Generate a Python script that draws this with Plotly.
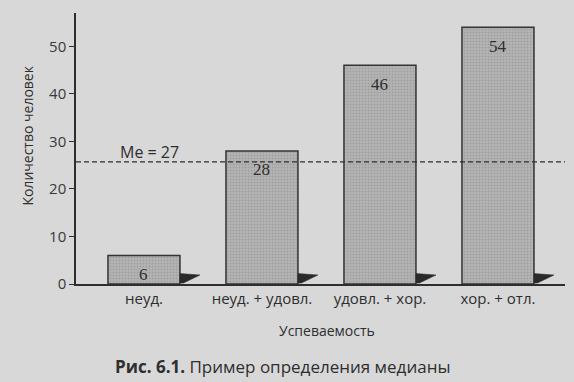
import plotly.graph_objects as go

# ---- data ----
categories = ["неуд.", "неуд. + удовл.", "удовл. + хор.", "хор. + отл."]
counts = [6, 28, 46, 54]
bar_labels = ["6", "28", "46", "54"]
median_label = "Me = 27"
median_line = 25.7
y_ticks = [0, 10, 20, 30, 40, 50]

# ---- styling ----
BG = "#d8d8d8"
INK = "#2e2e2e"
SANS = "Open Sans, Noto Sans, DejaVu Sans, sans-serif"
SERIF = "Liberation Serif, DejaVu Serif, serif"
bar_w = 0.61

xpos = list(range(len(categories)))

fig = go.Figure()

# shadows at the bottom-right of each bar (derived from bar positions)
for i in xpos:
    x0 = i + bar_w / 2
    fig.add_trace(go.Scatter(
        x=[x0, x0 + 0.17, x0 + 0.03, x0, x0],
        y=[2.2, 1.9, 0.2, 0.2, 2.2],
        mode="lines", fill="toself", fillcolor="#2a2a2a",
        line=dict(color="#2a2a2a", width=0.5),
        hoverinfo="skip", showlegend=False,
    ))

fig.add_trace(go.Bar(
    x=xpos, y=counts, width=bar_w,
    marker=dict(
        color="#ababab",
        line=dict(color="#333333", width=1.5),
        pattern=dict(shape=".", fgcolor="#8a8a8a", bgcolor="#b4b4b4",
                     size=3, solidity=0.35),
    ),
    showlegend=False, hoverinfo="skip",
))

# value labels inside the bars, near the top
for xi, v, lab in zip(xpos, counts, bar_labels):
    fig.add_annotation(x=xi, y=v, xref="x", yref="y", text=lab,
                       showarrow=False, xanchor="center", yanchor="middle",
                       yshift=-19,
                       font=dict(family=SERIF, size=17, color=INK))

fig.add_shape(type="line", xref="paper", yref="y", x0=0, x1=1,
              y0=median_line, y1=median_line,
              line=dict(color=INK, width=1.2, dash="5px,3px"), layer="above")

fig.add_annotation(x=-0.22, y=median_line, xref="x", yref="y",
                   xanchor="left", yanchor="bottom", yshift=-3,
                   text=median_label, showarrow=False,
                   font=dict(family=SANS, size=16, color=INK))

fig.add_annotation(x=-0.100, y=0.548, xref="paper", yref="paper",
                   xanchor="center", yanchor="middle",
                   text="Количество человек", textangle=-90, showarrow=False,
                   font=dict(family=SANS, size=14, color=INK))
fig.add_annotation(x=0.513, y=-0.170, xref="paper", yref="paper",
                   xanchor="center", yanchor="middle",
                   text="Успеваемость", showarrow=False,
                   font=dict(family=SANS, size=14, color=INK))
fig.add_annotation(x=0.422, y=-0.303, xref="paper", yref="paper",
                   xanchor="center", yanchor="middle",
                   text="<b>Рис. 6.1.</b> Пример определения медианы", showarrow=False,
                   font=dict(family=SANS, size=17, color=INK))

fig.update_layout(
    width=574, height=382,
    margin=dict(l=76, r=9, t=13, b=98),
    paper_bgcolor=BG, plot_bgcolor=BG,
    xaxis=dict(range=[-0.576, 3.568], tickvals=xpos, ticktext=categories,
               showline=True, linecolor=INK, linewidth=1.5, ticks="",
               showgrid=False, zeroline=False, fixedrange=True,
               tickfont=dict(family=SANS, size=15, color=INK)),
    yaxis=dict(range=[0, 57], tickvals=y_ticks, showline=True,
               linecolor=INK, linewidth=1.5, ticks="outside", ticklen=5,
               tickcolor=INK, showgrid=False, zeroline=False, fixedrange=True,
               tickfont=dict(family=SANS, size=15, color="#3a3a3a")),
)

fig.write_html("out.html",
               config={"displayModeBar": False},
               post_script="document.body.style.margin='0';document.body.style.background='#d8d8d8';")
